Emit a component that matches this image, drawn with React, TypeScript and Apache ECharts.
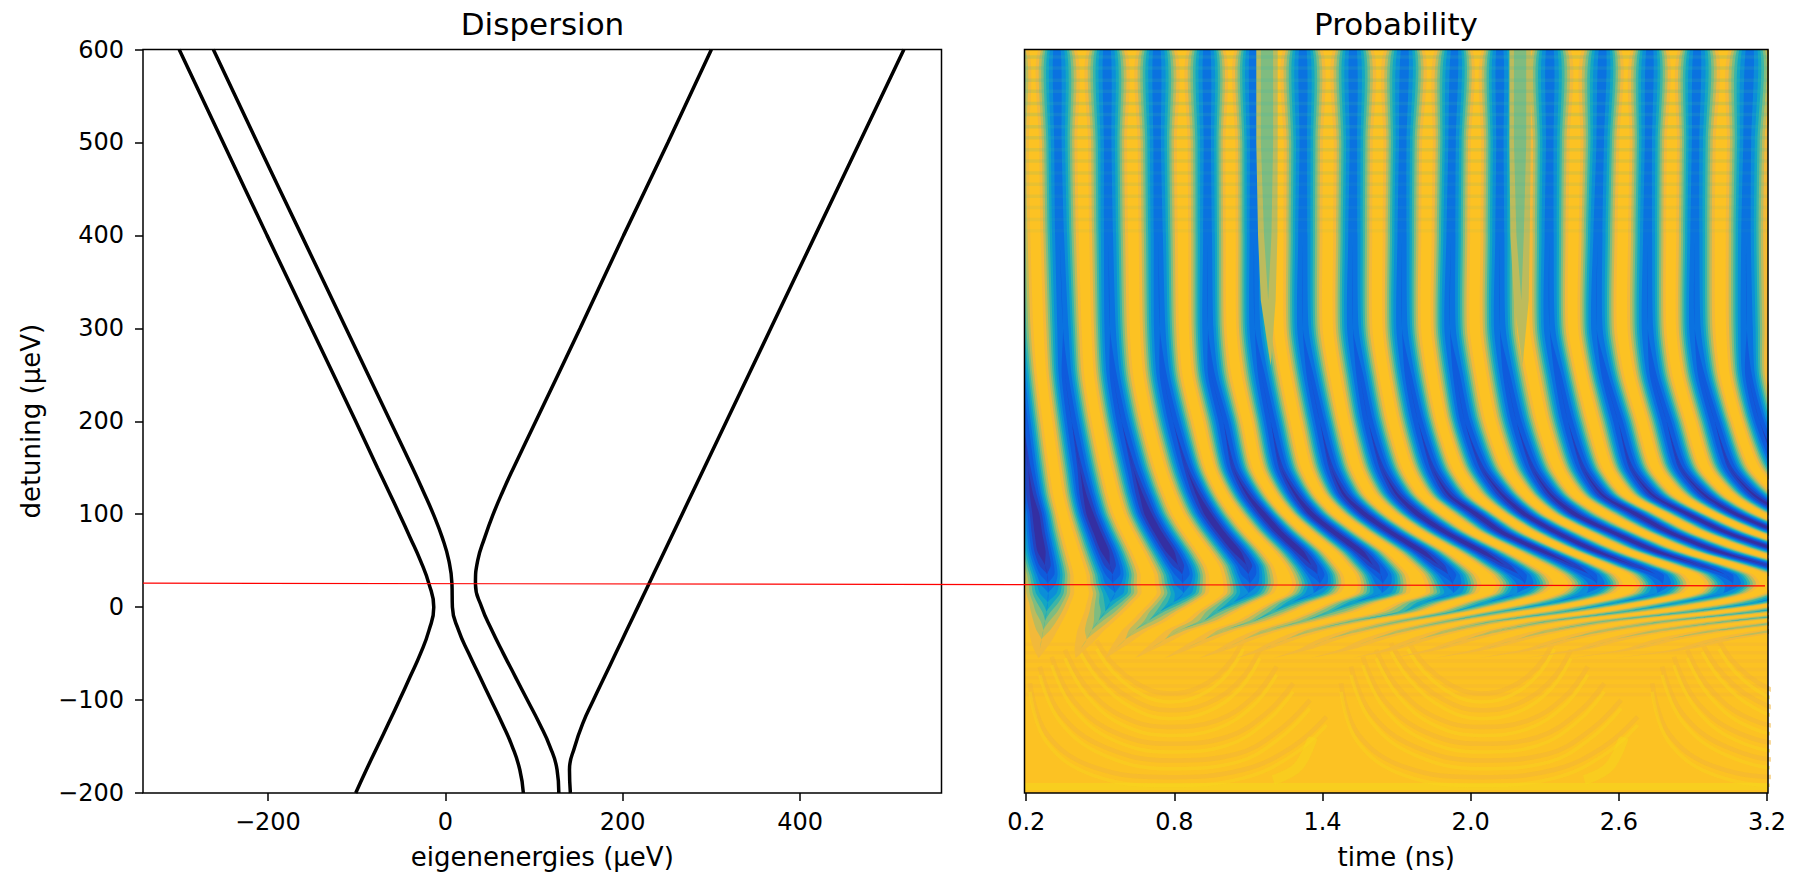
import React, { useEffect, useRef } from "react";
import * as echarts from "echarts";

// ---- Dispersion panel: eigenenergy (µeV), detuning (µeV)
const levelA = [[-300,600],[-250.5,500],[-201,400],[-151,300],[-101,200],[-76.5,150],[-64,125],[-51.7,100],[-39.7,75],[-28,50],[-18.4,25],[-13,0],[-18.4,-25],[-28,-50],[-39.7,-75],[-51.7,-100],[-64,-125],[-76.5,-150],[-89,-175],[-101,-200]];
const levelB = [[-261.5,600],[-212,500],[-162,400],[-112,300],[-62,200],[-37,150],[-25,125],[-13.5,100],[-3.5,75],[4,50],[7.5,25],[8,0],[15,-25],[26.5,-50],[39,-75],[51.5,-100],[64,-125],[75.5,-150],[84,-175],[88,-200]];
const levelC = [[300,600],[251,500],[201,400],[152,300],[102,200],[77,150],[65,125],[54,100],[44.5,75],[36.5,50],[34,25],[41,0],[52.5,-25],[65.5,-50],[79,-75],[92.5,-100],[106,-125],[118,-150],[126,-175],[128,-200]];
const levelD = [[517,600],[467,500],[417,400],[367,300],[317,200],[267,100],[242,50],[229.5,25],[217,0],[204.5,-25],[192,-50],[179.5,-75],[167,-100],[155,-125],[146,-150],[140,-175],[141,-200]];
const energyTicks = [-200, 0, 200, 400];
const timeTicks = [0.2, 0.8, 1.4, 2.0, 2.6, 3.2];
const markerLine = [[-340.8, 25.8], [1487.8, 22.9]];

// ---- Probability panel: time (ns) of each dark fringe at each detuning row
const fringeRows = [600,500,400,300,250,200,150,120,100,80,60,45,35,25,15,5,-5,-15,-25,-35,-45,-55];
const fringeDepth = [.72,.72,.74,.78,.82,.86,.9,.97,1,1,1,.95,.88,.78,.68,.52,.4,.3,.22,.15,.1,.05];
const fringe0  = [.134,.135,.14,.15,.168,.188,.208,.222,.239,.249,.262,.276,.285,.288,.289,.287,.282,.276,.269,.262,.255,.25];
const fringe1  = [.324,.328,.335,.349,.357,.384,.417,.438,.458,.488,.519,.539,.55,.551,.559,.539,.519,.492,.465,.444,.42,.40];
const fringe2  = [.527,.53,.533,.539,.552,.586,.633,.667,.694,.735,.782,.815,.832,.834,.836,.795,.741,.694,.64,.60,.56,.52];
const fringe3  = [.729,.73,.735,.741,.755,.795,.849,.896,.937,.991,1.052,1.092,1.10,1.106,1.099,1.038,.971,.917,.82,.76,.70,.64];
const fringe4  = [.932,.934,.935,.936,.95,.998,1.038,1.099,1.16,1.227,1.308,1.355,1.38,1.389,1.362,1.274,1.2,1.119,1.0,.92,.84,.76];
const fringe5  = [1.118,1.12,1.122,1.126,1.153,1.19,1.232,1.294,1.355,1.45,1.551,1.605,1.635,1.644,1.639,1.524,1.43,1.322,1.18,1.08,1.0,.90];
const fringe6  = [1.32,1.322,1.32,1.32,1.349,1.389,1.435,1.49,1.571,1.679,1.801,1.872,1.91,1.927,1.928,1.807,1.726,1.524,1.36,1.25,1.16,1.05];
const fringe7  = [1.523,1.525,1.523,1.523,1.551,1.585,1.64,1.706,1.787,1.902,2.043,2.138,2.195,2.219,2.185,2.063,1.928,1.72,1.55,1.42,1.33,1.2];
const fringe8  = [1.733,1.725,1.722,1.722,1.747,1.787,1.845,1.915,2.023,2.13,2.293,2.415,2.48,2.51,2.468,2.333,2.117,1.91,1.73,1.6,1.5,1.35];
const fringe9  = [1.935,1.925,1.92,1.916,1.942,1.976,2.045,2.131,2.219,2.35,2.509,2.657,2.75,2.777,2.752,2.59,2.374,2.1,1.92,1.79,1.68,1.52];
const fringe10 = [2.117,2.118,2.118,2.118,2.145,2.185,2.25,2.327,2.422,2.58,2.752,2.928,3.03,3.061,3.021,2.846,2.617,2.32,2.12,1.98,1.86,1.68];
const fringe11 = [2.32,2.32,2.318,2.32,2.354,2.394,2.455,2.536,2.671,2.81,3.0,3.2,3.31,3.338,3.29,3.156,2.887,2.549,2.33,2.18,2.05,1.85];
const fringe12 = [2.535,2.525,2.515,2.51,2.543,2.597,2.65,2.739,2.881,3.04,3.26,3.46,3.58,3.615,3.56,3.4,3.15,2.8,2.55,2.38,2.25,2.03];
const fringe13 = [2.725,2.72,2.717,2.717,2.739,2.793,2.85,2.95,3.076,3.258,3.52,3.75,3.86,3.89,3.84,3.65,3.4,3.05,2.77,2.58,2.45,2.22];
const fringe14 = [2.916,2.91,2.907,2.907,2.934,2.988,3.05,3.15,3.28,3.48,3.8,4.03,4.14,4.17,4.1,3.9,3.65,3.3,3.0,2.79,2.65,2.4];
const fringe15 = [3.13,3.12,3.115,3.118,3.125,3.17,3.25,3.36,3.5,3.7,4.06,4.3,4.42,4.45,4.4,4.2,3.9,3.55,3.24,3.01,2.86,2.58];
const fringes = [fringe0,fringe1,fringe2,fringe3,fringe4,fringe5,fringe6,fringe7,fringe8,fringe9,fringe10,fringe11,fringe12,fringe13,fringe14,fringe15];

// weak greenish beat bands over the upper part
const beatRows = [600,500,400,330,260,200];
const beatDepth = [.34,.34,.3,.24,.14,.04];
const beatA = [1.175,1.175,1.178,1.18,1.19,1.2];
const beatB = [2.2,2.2,2.2,2.205,2.21,2.22];
const beatHalf = 0.09;

// horizontal ripple rows over the upper part and the lower band
const rippleRows = [592,580,567,555,542,530,517,505,492,480,467,455,442,430,417,405];
const rippleOpacity = [.18,.18,.18,.18,.18,.18,.18,.16,.14,.12,.12,.1,.1,.08,.08,.06];
const lowerRows = [-40,-49,-58,-67,-76,-85,-94];

// ripple arcs over the lower lobes: time offset from lobe centre (ns), detuning
const lobeCentres = [0.78, 2.04, 3.3];
const arcOffsets = [
  [-.565,-.498,-.309,0,.299,.5,.636],
  [-.525,-.444,-.268,0,.272,.447,.569],
  [-.477,-.39,-.228,0,.231,.393,.501],
  [-.423,-.336,-.187,0,.191,.339,.434],
  [-.363,-.282,-.147,0,.15,.285,.366],
  [-.295,-.228,-.106,0,.123,.231,.299],
];
const arcDetunings = [
  [-82,-136,-172,-183,-175,-150,-118],
  [-64,-114,-150,-165,-158,-132,-100],
  [-53.5,-100,-134,-147,-140,-114,-82],
  [-46,-86,-118,-129,-122,-97,-64],
  [-39,-71,-100,-111,-104,-79,-46],
  [-36,-61,-86,-93,-86,-64,-36],
];
const arcBrightShift = -9;
const glowFloor = [[0.193,-193],[3.204,-193]];
const glowA = [[1.2,-186],[1.3,-172],[1.36,-140]];
const glowB = [[2.46,-186],[2.56,-172],[2.62,-140]];

// colour levels of the map (depth threshold, colour)
const levelDepths = [.08,.18,.28,.38,.48,.58,.68,.78,.88,.96];
const levelColours = ["#f2b93a","#bdbb5c","#7fbc80","#3db5a6","#12a6c4","#0b8ed8","#0a72e0","#0f5bdc","#2443c0","#342fa2"];
const mapYellow = "#fcc223";

const timeMin = 0.193, timeMax = 3.204;

function halfWidth(side: number, depth: number, level: number) {
  if (depth <= level) return 0;
  return side * (2 / Math.PI) * Math.acos(Math.sqrt(level / depth));
}

function fringeItem(_p: any, api: any) {
  const lv = api.value(0), idx = api.value(1);
  const times = fringes[idx];
  const left: number[][] = [], right: number[][] = [];
  fringeRows.forEach((y, r) => {
    const prev = idx > 0 ? fringes[idx - 1][r] : null;
    const next = idx < fringes.length - 1 ? fringes[idx + 1][r] : null;
    const wl = prev === null ? (next as number) - times[r] : times[r] - prev;
    const wr = next === null ? times[r] - (prev as number) : next - times[r];
    const d = fringeDepth[r], c = levelDepths[lv];
    left.push(api.coord([times[r] - halfWidth(wl / 2, d, c), y]));
    right.push(api.coord([times[r] + halfWidth(wr / 2, d, c), y]));
  });
  return {
    type: "polygon",
    shape: { points: left.concat(right.reverse()), smooth: 0.25 },
    style: { fill: levelColours[lv] },
    silent: true,
  };
}

function beatItem(_p: any, api: any) {
  const lv = api.value(0), which = api.value(1);
  const times = which === 0 ? beatA : beatB;
  const left: number[][] = [], right: number[][] = [];
  beatRows.forEach((y, r) => {
    const w = halfWidth(beatHalf, beatDepth[r], levelDepths[lv]);
    left.push(api.coord([times[r] - w, y]));
    right.push(api.coord([times[r] + w, y]));
  });
  return {
    type: "polygon",
    shape: { points: left.concat(right.reverse()) },
    style: { fill: levelColours[lv] },
    silent: true,
  };
}

function baseItem(_p: any, api: any) {
  const pts = [[timeMin, -200], [timeMax, -200], [timeMax, 600], [timeMin, 600]].map((p) => api.coord(p));
  return { type: "polygon", shape: { points: pts }, style: { fill: mapYellow }, silent: true };
}

const fontFamily = "DejaVu Sans";
const tickText = { color: "#000", fontSize: 24, fontFamily };
const nameText = { color: "#000", fontSize: 26, fontFamily };
const titleText = { color: "#000", fontSize: 31, fontWeight: "normal", fontFamily };
const tick = { show: true, length: 8, lineStyle: { color: "#000", width: 1.5 } };
const noAxisLine = { show: false, onZero: false };

function curve(data: number[][]) {
  return {
    type: "line", data, xAxisIndex: 0, yAxisIndex: 0, smooth: 0.5, showSymbol: false, symbol: "none",
    lineStyle: { color: "#000", width: 3.5 }, silent: true, z: 3, animation: false,
  };
}
function mapLine(data: number[][], color: string, width: number, opacity: number, z: number, smooth = 0.4) {
  return {
    type: "line", data, xAxisIndex: 1, yAxisIndex: 1, smooth, showSymbol: false, symbol: "none",
    lineStyle: { color, width, opacity, cap: "butt" }, silent: true, z, animation: false,
  };
}

export default function App() {
  const ref = useRef<HTMLDivElement>(null);
  useEffect(() => {
    document.body.style.margin = "0";
    const chart = echarts.init(ref.current!, null, { renderer: "svg" });
    const levelItems: number[][] = [];
    levelDepths.forEach((_, lv) => fringes.forEach((_f, i) => levelItems.push([lv, i])));
    const beatItems: number[][] = [];
    [1, 2].forEach((lv) => { beatItems.push([lv, 0]); beatItems.push([lv, 1]); });

    const arcSeries: any[] = [];
    lobeCentres.forEach((c) => arcOffsets.forEach((off, a) => {
      arcSeries.push(mapLine(off.map((o, k) => [c + o, arcDetunings[a][k]]), "#f2b338", 4.5, 0.5, 4));
      arcSeries.push(mapLine(off.map((o, k) => [c + o, arcDetunings[a][k] + arcBrightShift]), "#f8d41c", 3.5, 0.45, 4));
    }));
    const rippleSeries = rippleRows.map((y, i) =>
      mapLine([[timeMin, y], [timeMax, y]], "#3db5a6", 3.5, rippleOpacity[i], 7, 0));
    const lowerSeries = lowerRows.map((y) =>
      mapLine([[timeMin, y], [timeMax, y]], "#f2b338", 3.5, 0.3, 4, 0));

    chart.setOption({
      animation: false,
      backgroundColor: "#fff",
      title: [
        { text: "Dispersion", left: 537.5, top: 3, textAlign: "center", textStyle: titleText },
        { text: "Probability", left: 1391, top: 3, textAlign: "center", textStyle: titleText },
      ],
      grid: [
        { left: 143, top: 49.5, width: 798.5, height: 743.5, show: true, borderColor: "#000", borderWidth: 1.5, backgroundColor: "transparent", z: 10 },
        { left: 1024.5, top: 49.5, width: 743.5, height: 743.5, show: true, borderColor: "#000", borderWidth: 1.5, backgroundColor: "transparent", z: 10 },
        { left: 143, top: 49.5, width: 1625, height: 743.5, show: false },
      ],
      xAxis: [
        { type: "value", gridIndex: 0, min: -340.8, max: 559.4, splitLine: { show: false }, axisLine: noAxisLine,
          axisTick: { ...tick, customValues: energyTicks },
          axisLabel: { ...tickText, margin: 17, customValues: energyTicks, formatter: (v: number) => String(v).replace("-", "\u2212") },
          name: "eigenenergies (µeV)", nameLocation: "middle", nameGap: 51, nameTextStyle: nameText },
        { type: "value", gridIndex: 1, min: timeMin, max: timeMax, splitLine: { show: false }, axisLine: noAxisLine,
          axisTick: { ...tick, customValues: timeTicks },
          axisLabel: { ...tickText, margin: 17, customValues: timeTicks, formatter: (v: number) => v.toFixed(1) },
          name: "time (ns)", nameLocation: "middle", nameGap: 51, nameTextStyle: nameText },
        { type: "value", gridIndex: 2, min: -340.8, max: 1491.2, show: false },
      ],
      yAxis: [
        { type: "value", gridIndex: 0, min: -200, max: 600, interval: 100, splitLine: { show: false }, axisLine: noAxisLine,
          axisTick: tick, axisLabel: { ...tickText, margin: 19, formatter: (v: number) => String(v).replace("-", "\u2212") },
          name: "detuning (µeV)", nameLocation: "middle", nameGap: 99, nameTextStyle: nameText },
        { type: "value", gridIndex: 1, min: -200, max: 600, interval: 100, show: false },
        { type: "value", gridIndex: 2, min: -200, max: 600, show: false },
      ],
      series: [
        curve(levelA), curve(levelB), curve(levelC), curve(levelD),
        { type: "custom", xAxisIndex: 1, yAxisIndex: 1, data: [[0, 0]], renderItem: baseItem, clip: true, silent: true, z: 1 },
        mapLine(glowFloor, "#f5d61c", 7, 0.6, 2, 0),
        mapLine(glowA, "#f5d61c", 10, 0.5, 2),
        mapLine(glowB, "#f5d61c", 10, 0.5, 2),
        ...lowerSeries,
        ...arcSeries,
        { type: "custom", xAxisIndex: 1, yAxisIndex: 1, data: levelItems, renderItem: fringeItem, clip: true, silent: true, z: 5 },
        { type: "custom", xAxisIndex: 1, yAxisIndex: 1, data: beatItems, renderItem: beatItem, clip: true, silent: true, z: 6 },
        ...rippleSeries,
        { type: "line", data: markerLine, xAxisIndex: 2, yAxisIndex: 2, showSymbol: false, symbol: "none", clip: false,
          lineStyle: { color: "#ff0000", width: 1.2 }, silent: true, z: 20 },
      ],
    });
    return () => chart.dispose();
  }, []);
  return <div ref={ref} style={{ position: "fixed", left: 0, top: 0, width: 1796, height: 877 }} />;
}
